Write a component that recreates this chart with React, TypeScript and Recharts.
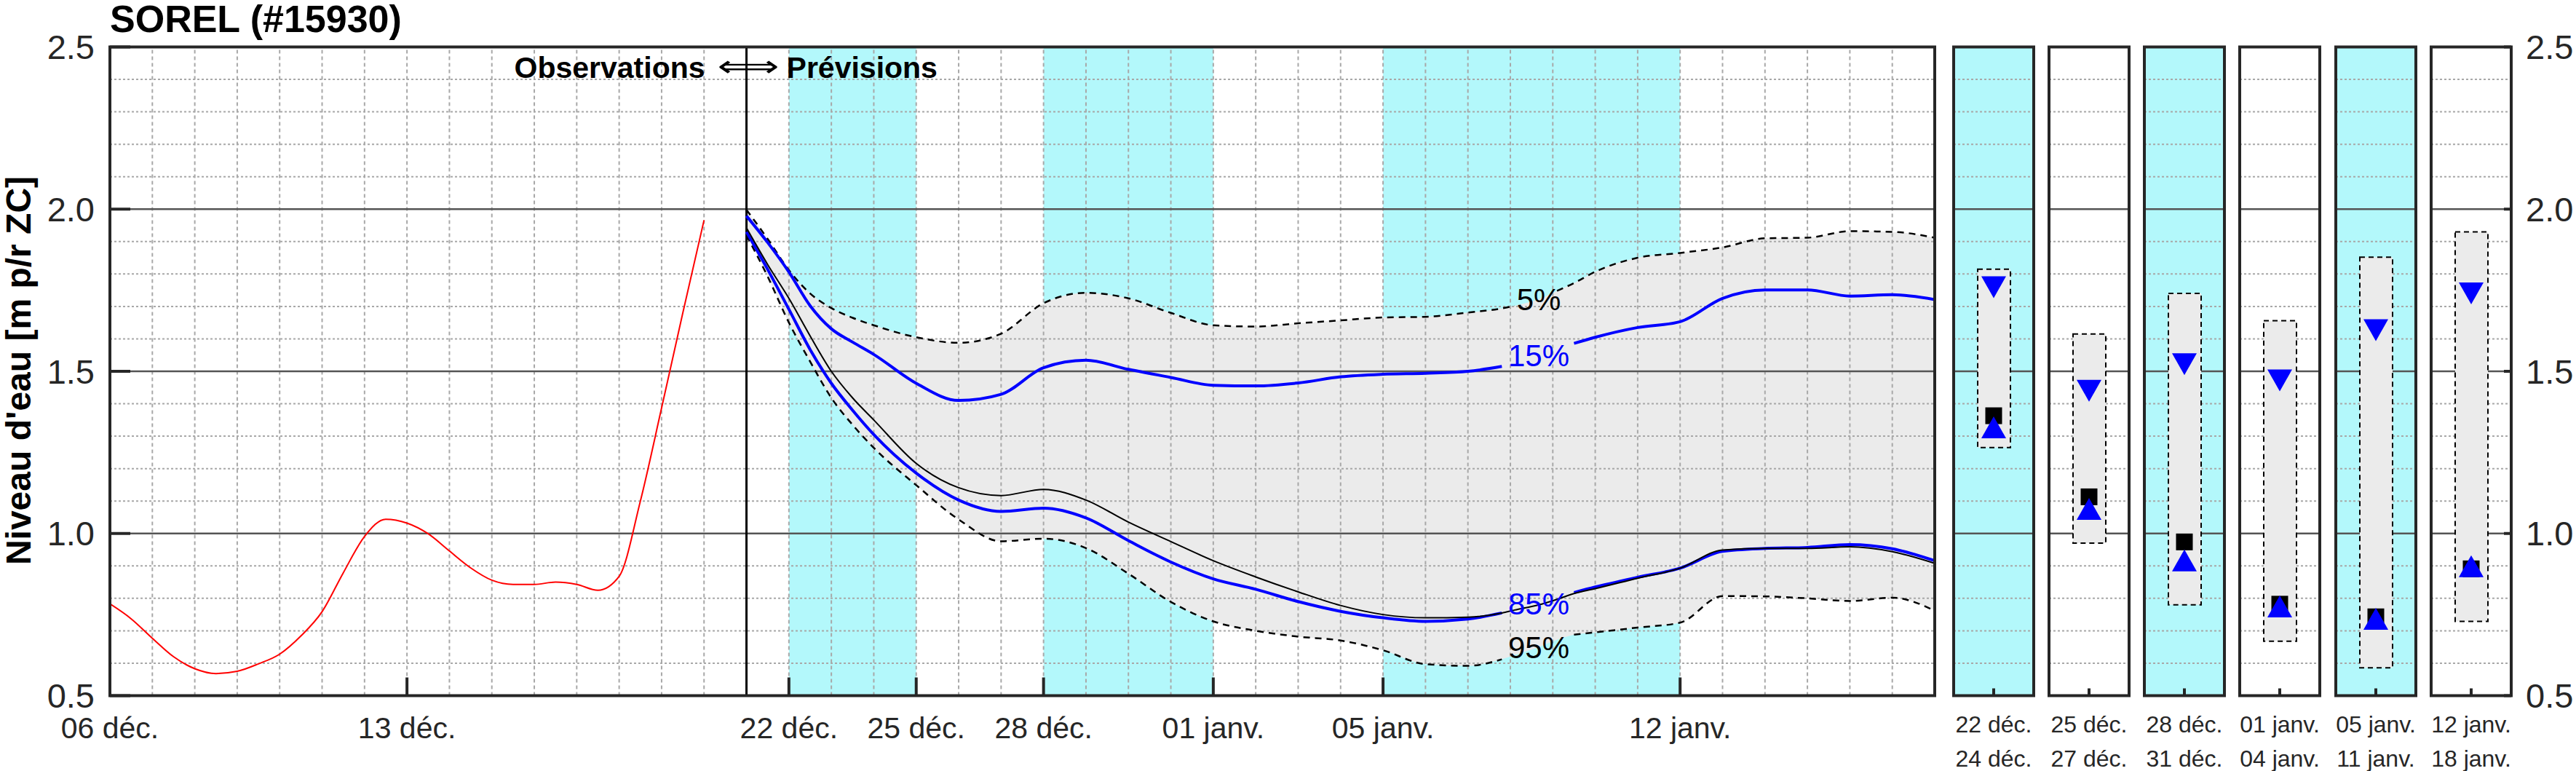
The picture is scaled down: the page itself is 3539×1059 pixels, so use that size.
import React from 'react';
import {
  ComposedChart,
  Line,
  Area,
  Bar,
  Scatter,
  XAxis,
  YAxis,
  ReferenceArea,
  ReferenceLine,
  ReferenceDot,
} from 'recharts';

const FONT = '"Liberation Sans", Arial, Helvetica, sans-serif';
const INK = '#262626';
const CYAN = '#b3f8fb';
const BAND = '#ebebeb';
const BLUE = '#0000ff';
const GRID = '#a8a8a8';

// observed water level, days counted from 06 déc.
const obsDays = [0, 0.5, 1, 1.5, 2, 2.5, 3, 3.5, 4, 4.5, 5, 5.5, 6, 6.5, 7, 7.5, 8, 8.5, 9, 9.5, 10, 10.5, 11, 11.5, 12, 12.5, 13, 13.5, 14];
const obsLevel = [0.783, 0.737, 0.677, 0.62, 0.583, 0.568, 0.575, 0.598, 0.628, 0.684, 0.759, 0.879, 0.991, 1.044, 1.032, 0.999, 0.946, 0.894, 0.856, 0.843, 0.843, 0.85, 0.843, 0.825, 0.868, 1.1, 1.387, 1.68, 1.966];

// ensemble forecast
const fcDays = [15, 15.5, 16, 16.5, 17, 17.5, 18, 19, 20, 21, 22, 23, 24, 25, 26, 27, 28, 29, 30, 31, 32, 32.8, 33.1, 33.67, 34.1, 34.5, 35, 36, 37, 38, 39, 40, 41, 42, 43];
const fcP5 = [1.998, 1.908, 1.812, 1.74, 1.695, 1.665, 1.642, 1.605, 1.588, 1.616, 1.71, 1.742, 1.725, 1.68, 1.642, 1.638, 1.648, 1.657, 1.666, 1.668, 1.681, 1.694, 1.702, 1.722, 1.748, 1.772, 1.807, 1.85, 1.865, 1.882, 1.91, 1.912, 1.932, 1.93, 1.912];
const fcP15 = [1.979, 1.897, 1.806, 1.702, 1.631, 1.59, 1.552, 1.463, 1.41, 1.429, 1.511, 1.534, 1.506, 1.481, 1.457, 1.455, 1.464, 1.483, 1.491, 1.494, 1.5, 1.515, 1.53, 1.55, 1.57, 1.586, 1.605, 1.635, 1.653, 1.725, 1.751, 1.751, 1.732, 1.736, 1.721];
const fcMedian = [1.942, 1.829, 1.725, 1.609, 1.5, 1.418, 1.35, 1.216, 1.141, 1.117, 1.136, 1.103, 1.035, 0.975, 0.916, 0.866, 0.82, 0.778, 0.75, 0.74, 0.742, 0.755, 0.764, 0.78, 0.797, 0.815, 0.83, 0.862, 0.893, 0.949, 0.954, 0.954, 0.959, 0.944, 0.908];
const fcP85 = [1.93, 1.814, 1.691, 1.567, 1.463, 1.38, 1.305, 1.186, 1.103, 1.068, 1.078, 1.048, 0.978, 0.912, 0.86, 0.828, 0.79, 0.76, 0.74, 0.729, 0.736, 0.755, 0.765, 0.785, 0.8, 0.818, 0.835, 0.865, 0.893, 0.945, 0.954, 0.957, 0.966, 0.953, 0.916];
const fcP95 = [1.919, 1.792, 1.65, 1.53, 1.418, 1.335, 1.264, 1.149, 1.043, 0.976, 0.984, 0.955, 0.876, 0.789, 0.729, 0.7, 0.682, 0.67, 0.64, 0.597, 0.592, 0.612, 0.625, 0.65, 0.672, 0.688, 0.695, 0.71, 0.725, 0.807, 0.806, 0.8, 0.792, 0.802, 0.762];

const FORECAST_START = 15;
const LABEL_DAY = 33.67;
const wideGap = [33.1, 33.67, 34.1];
const narrowGap = [33.67];

const tickDays = [0, 7, 16, 19, 22, 26, 30, 37];
const tickLabels = ['06 déc.', '13 déc.', '22 déc.', '25 déc.', '28 déc.', '01 janv.', '05 janv.', '12 janv.'];
const cyanBands = [[16, 19], [22, 26], [30, 37]];

// summary panels
const panelFrom = ['22 déc.', '25 déc.', '28 déc.', '01 janv.', '05 janv.', '12 janv.'];
const panelTo = ['24 déc.', '27 déc.', '31 déc.', '04 janv.', '11 janv.', '18 janv.'];
const panelShaded = [true, false, true, false, true, false];
const panelHigh = [1.815, 1.615, 1.74, 1.656, 1.852, 1.93];
const panelP15 = [1.759, 1.44, 1.522, 1.472, 1.627, 1.74];
const panelMedian = [1.363, 1.113, 0.974, 0.782, 0.743, 0.891];
const panelP85 = [1.327, 1.076, 0.917, 0.775, 0.737, 0.899];
const panelLow = [1.265, 0.97, 0.78, 0.668, 0.586, 0.729];

const levelTicks = [0.5, 1, 1.5, 2, 2.5];
const majorLevels = [1, 1.5, 2];
const minorLevels = Array.from({ length: 21 }, (_, i) => Math.round((0.5 + i * 0.1) * 10) / 10).filter(
  (v) => v > 0.5 && v < 2.5 && !majorLevels.includes(v)
);
const dayLines = Array.from({ length: 42 }, (_, i) => i + 1);

// layout
const W = 3539;
const H = 1059;
const PLOT_TOP = 64.5;
const PLOT_BOTTOM = 955.5;
const MAIN_LEFT = 151;
const MAIN_RIGHT = 2658;
const PANEL_LEFT0 = 2684;
const PANEL_STEP = 131.15;
const PANEL_W = 110;
const PAD = 30;

const rowsByDay = new Map<number, any>();
const put = (day: number, key: string, value: any) => {
  const row = rowsByDay.get(day) ?? { day };
  row[key] = value;
  rowsByDay.set(day, row);
};
obsDays.forEach((d, i) => put(d, 'obs', obsLevel[i]));
fcDays.forEach((d, i) => {
  put(d, 'band', [fcP95[i], fcP5[i]]);
  put(d, 'p5', narrowGap.includes(d) ? null : fcP5[i]);
  put(d, 'p15', wideGap.includes(d) ? null : fcP15[i]);
  put(d, 'median', fcMedian[i]);
  put(d, 'p85', wideGap.includes(d) ? null : fcP85[i]);
  put(d, 'p95', wideGap.includes(d) ? null : fcP95[i]);
});
const mainRows = [...rowsByDay.values()].sort((a, b) => a.day - b.day);

const labelIdx = fcDays.indexOf(LABEL_DAY);
const pctLabels = [
  { text: '5%', level: fcP5[labelIdx], color: '#000' },
  { text: '15%', level: fcP15[labelIdx], color: BLUE },
  { text: '85%', level: fcP85[labelIdx], color: BLUE },
  { text: '95%', level: fcP95[labelIdx], color: '#000' },
];

const MainTick = (props: any) => {
  const { x, y, payload } = props;
  return (
    <text x={x} y={y + 58} textAnchor="middle" fill={INK} fontSize={41} fontFamily={FONT}>
      {tickLabels[tickDays.indexOf(payload.value)]}
    </text>
  );
};

const PanelTick = (props: any) => {
  const { x, y, payload } = props;
  const i = Number(payload.value);
  return (
    <text textAnchor="middle" fill={INK} fontSize={32} fontFamily={FONT}>
      <tspan x={x} y={y + 50}>{panelFrom[i]}</tspan>
      <tspan x={x} y={y + 97}>{panelTo[i]}</tspan>
    </text>
  );
};

const SepLabel = (props: any) => {
  const x = props.viewBox?.x ?? 0;
  const y = (props.viewBox?.y ?? 0) + 42.5;
  return (
    <g>
      <text x={x - 57} y={y} textAnchor="end" fontSize={41} fontWeight="bold" fontFamily={FONT} fill="#000">
        Observations
      </text>
      <text x={x - 40} y={y - 2} fontSize={41} fontFamily="DejaVu Sans" fill="#000" textLength={85} lengthAdjust="spacingAndGlyphs">
        ⟺
      </text>
      <text x={x + 55} y={y} fontSize={41} fontWeight="bold" fontFamily={FONT} fill="#000">
        Prévisions
      </text>
    </g>
  );
};

const PctLabel = (props: any) => {
  const x = props.viewBox?.x ?? 0;
  const y = props.viewBox?.y ?? 0;
  return (
    <text x={x} y={y + 15} textAnchor="middle" fontSize={42} fontFamily={FONT} fill={props.color}>
      {props.text}
    </text>
  );
};

const downTri = (p: any) => (
  <polygon points={`${p.cx - 17},${p.cy - 15} ${p.cx + 17},${p.cy - 15} ${p.cx},${p.cy + 15}`} fill={BLUE} />
);
const upTri = (p: any) => (
  <polygon points={`${p.cx - 17},${p.cy + 15} ${p.cx + 17},${p.cy + 15} ${p.cx},${p.cy - 15}`} fill={BLUE} />
);
const squareMark = (p: any) => <rect x={p.cx - 11.5} y={p.cy - 11.5} width={23} height={23} fill="#000" />;

const tickLineStyle = { stroke: INK, strokeWidth: 4 };

function MainChart() {
  return (
    <ComposedChart
      width={MAIN_RIGHT + 22}
      height={H}
      data={mainRows}
      margin={{ top: PLOT_TOP - 1, right: 21, bottom: H - PLOT_BOTTOM - 1, left: MAIN_LEFT - 1 }}
    >
      {cyanBands.map(([a, b]) => (
        <ReferenceArea key={a} x1={a} x2={b} fill={CYAN} fillOpacity={1} stroke="none" ifOverflow="visible" zIndex={10} />
      ))}
      <Area dataKey="band" type="monotone" fill={BAND} fillOpacity={1} stroke="none" isAnimationActive={false} activeDot={false} zIndex={20} />
      {dayLines.map((d) => (
        <ReferenceLine key={'v' + d} x={d} stroke={GRID} strokeWidth={2} strokeDasharray="5 4" zIndex={30} />
      ))}
      {minorLevels.map((v) => (
        <ReferenceLine key={'h' + v} y={v} stroke={GRID} strokeWidth={2} strokeDasharray="3 3" zIndex={30} />
      ))}
      {majorLevels.map((v) => (
        <ReferenceLine key={'m' + v} y={v} stroke="#555555" strokeWidth={2.5} zIndex={40} />
      ))}
      <ReferenceLine x={FORECAST_START} stroke="#000" strokeWidth={3} zIndex={45} label={<SepLabel />} />
      <Line dataKey="obs" type="monotone" stroke="#ff0000" strokeWidth={2} dot={false} activeDot={false} isAnimationActive={false} zIndex={50} />
      <Line dataKey="p5" type="monotone" stroke="#000" strokeWidth={2.5} strokeDasharray="9 7" dot={false} activeDot={false} isAnimationActive={false} zIndex={50} />
      <Line dataKey="p95" type="monotone" stroke="#000" strokeWidth={2.5} strokeDasharray="9 7" dot={false} activeDot={false} isAnimationActive={false} zIndex={50} />
      <Line dataKey="median" type="monotone" stroke="#000" strokeWidth={2} dot={false} activeDot={false} isAnimationActive={false} zIndex={55} />
      <Line dataKey="p15" type="monotone" stroke={BLUE} strokeWidth={4} dot={false} activeDot={false} isAnimationActive={false} zIndex={54} />
      <Line dataKey="p85" type="monotone" stroke={BLUE} strokeWidth={4} dot={false} activeDot={false} isAnimationActive={false} zIndex={54} />
      {pctLabels.map((l) => (
        <ReferenceDot key={l.text} x={LABEL_DAY} y={l.level} r={0} fill="none" stroke="none" zIndex={80}
          label={<PctLabel text={l.text} color={l.color} />} />
      ))}
      <ReferenceArea x1={0} x2={43} y1={0.5} y2={2.5} fill="none" stroke={INK} strokeWidth={4} ifOverflow="visible" zIndex={70} />
      <XAxis dataKey="day" type="number" domain={[0, 43]} ticks={tickDays} interval={0} height={1} axisLine={false}
        tickSize={-25} tickMargin={25} tickLine={tickLineStyle} tick={<MainTick />} allowDataOverflow />
      <XAxis xAxisId="top" orientation="top" dataKey="day" type="number" domain={[0, 43]} ticks={tickDays} interval={0}
        height={1} axisLine={false} tickSize={-26} tickLine={tickLineStyle} tick={false} allowDataOverflow />
      <YAxis type="number" domain={[0.5, 2.5]} ticks={levelTicks} interval={0} width={1} axisLine={false}
        tickSize={-28} tickMargin={49} tickLine={tickLineStyle}
        tick={{ fill: INK, fontSize: 47, fontFamily: FONT }} tickFormatter={(v: number) => v.toFixed(1)} allowDataOverflow />
      <YAxis yAxisId="right" orientation="right" type="number" domain={[0.5, 2.5]} ticks={levelTicks} interval={0} width={1}
        axisLine={false} tickSize={-27} tickLine={tickLineStyle} tick={false} allowDataOverflow />
    </ComposedChart>
  );
}

function PanelChart({ i }: { i: number }) {
  const last = i === panelFrom.length - 1;
  const rightPad = last ? 130 : PAD;
  const row = [{ slot: i, box: [panelLow[i], panelHigh[i]], p15: panelP15[i], median: panelMedian[i], p85: panelP85[i] }];
  return (
    <ComposedChart
      width={PANEL_W + PAD + rightPad}
      height={H}
      data={row}
      margin={{ top: PLOT_TOP - 1, right: rightPad - 1, bottom: H - PLOT_BOTTOM - 1, left: PAD - 1 }}
    >
      {panelShaded[i] && (
        <ReferenceArea y1={0.5} y2={2.5} fill={CYAN} fillOpacity={1} stroke="none" ifOverflow="visible" zIndex={10} />
      )}
      {minorLevels.map((v) => (
        <ReferenceLine key={'h' + v} y={v} stroke={GRID} strokeWidth={2} strokeDasharray="3 3" zIndex={30} />
      ))}
      {majorLevels.map((v) => (
        <ReferenceLine key={'m' + v} y={v} stroke="#555555" strokeWidth={2.5} zIndex={40} />
      ))}
      <Bar dataKey="box" barSize={45} fill={BAND} stroke="#000" strokeWidth={2} strokeDasharray="7 5" isAnimationActive={false} zIndex={50} />
      <Scatter dataKey="median" shape={squareMark} isAnimationActive={false} zIndex={60} />
      <Scatter dataKey="p85" shape={upTri} isAnimationActive={false} zIndex={61} />
      <Scatter dataKey="p15" shape={downTri} isAnimationActive={false} zIndex={62} />
      <ReferenceArea y1={0.5} y2={2.5} fill="none" stroke={INK} strokeWidth={4} ifOverflow="visible" zIndex={70} />
      <XAxis dataKey="slot" type="category" height={1} axisLine={false} interval={0} tickSize={-10} tickMargin={10}
        tickLine={tickLineStyle} tick={<PanelTick />} />
      <XAxis xAxisId="top" orientation="top" dataKey="slot" type="category" height={1} axisLine={false} interval={0}
        tickSize={-10} tickLine={tickLineStyle} tick={false} />
      <YAxis type="number" domain={[0.5, 2.5]} ticks={majorLevels} interval={0} width={1} axisLine={false}
        tickSize={-10} tickLine={tickLineStyle} tick={false} allowDataOverflow />
      <YAxis yAxisId="right" orientation="right" type="number" domain={[0.5, 2.5]} ticks={last ? levelTicks : majorLevels}
        interval={0} width={1} axisLine={false} tickSize={-10} tickMargin={30} tickLine={tickLineStyle}
        tick={last ? { fill: INK, fontSize: 47, fontFamily: FONT } : false}
        tickFormatter={(v: number) => v.toFixed(1)} allowDataOverflow />
    </ComposedChart>
  );
}

export default function App() {
  return (
    <div style={{ position: 'absolute', left: 0, top: 0, width: W, height: H, background: '#fff', fontFamily: FONT }}>
      <div style={{ position: 'absolute', left: 0, top: 0 }}>
        <MainChart />
      </div>
      {panelFrom.map((_, i) => (
        <div key={i} style={{ position: 'absolute', left: PANEL_LEFT0 + i * PANEL_STEP - PAD, top: 0 }}>
          <PanelChart i={i} />
        </div>
      ))}
      <svg width={W} height={H} style={{ position: 'absolute', left: 0, top: 0, pointerEvents: 'none' }}>
        <text x={151} y={44} fontSize={52} fontWeight="bold" fontFamily={FONT} fill="#000">
          SOREL (#15930)
        </text>
        <text transform="translate(42, 509) rotate(-90)" textAnchor="middle" fontSize={48} fontWeight="bold" fontFamily={FONT} fill="#000">
          Niveau d'eau [m p/r ZC]
        </text>
      </svg>
    </div>
  );
}
